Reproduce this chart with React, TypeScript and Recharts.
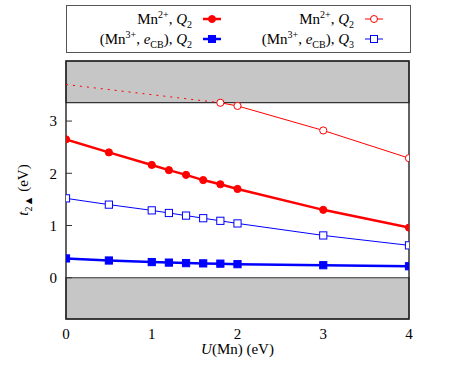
import React from 'react'
import { LineChart, Line, XAxis, YAxis, ReferenceArea } from 'recharts'

// U(Mn) values (eV)
const uFull = [0, 0.5, 1, 1.2, 1.4, 1.6, 1.8, 2, 3, 4]
const uOpen = [1.8, 2, 3, 4]
const uExtrap = [0, 1.8]

// t2 up-spin level (eV)
const mn2Q2 = [2.65, 2.4, 2.16, 2.06, 1.97, 1.87, 1.79, 1.7, 1.3, 0.96]
const mn3Q2 = [0.37, 0.33, 0.3, 0.29, 0.28, 0.275, 0.27, 0.26, 0.24, 0.22]
const mn3Q3 = [1.52, 1.4, 1.29, 1.24, 1.19, 1.14, 1.09, 1.04, 0.81, 0.62]
const mn2Open = [3.35, 3.29, 2.82, 2.29]
const mn2Extrap = [3.7, 3.35]

const xTicks = [0, 1, 2, 3, 4]
const yTicks = [0, 1, 2, 3]
const yMin = -0.79
const yMax = 4.15
const cbEdge = 3.354

const toRows = (xs: number[], ys: number[]) => xs.map((u, i) => ({ u, v: ys[i] }))

const RED = '#ff0000'
const BLUE = '#0000ff'
const FONT = "'Liberation Serif', 'Times New Roman', Tinos, 'DejaVu Serif', serif"

const circleDot = (filled: boolean) => (p: any) => (
  <circle
    key={p.key}
    cx={p.cx}
    cy={p.cy}
    r={3.6}
    fill={filled ? RED : '#fff'}
    stroke={RED}
    strokeWidth={1}
  />
)

const squareDot = (filled: boolean) => (p: any) => (
  <rect
    key={p.key}
    x={p.cx - 3.6}
    y={p.cy - 3.6}
    width={7.2}
    height={7.2}
    fill={filled ? BLUE : '#fff'}
    stroke={BLUE}
    strokeWidth={1}
  />
)

const LeftTick = (p: any) => (
  <g>
    <line x1={p.x + 9} x2={p.x + 15} y1={p.y} y2={p.y} stroke="#333" strokeWidth={1} />
    <text x={p.x} y={p.y} dy="0.35em" textAnchor="end" fontSize={15} fill="#000" style={{ fontFamily: FONT }}>
      {p.payload.value}
    </text>
  </g>
)

const BottomTick = (p: any) => (
  <text x={p.x} y={p.y} dy="0.71em" textAnchor="middle" fontSize={15} fill="#000" style={{ fontFamily: FONT }}>
    {p.payload.value}
  </text>
)

const RightTick = (p: any) => (
  <line x1={p.x - 6} x2={p.x} y1={p.y} y2={p.y} stroke="#333" strokeWidth={1} />
)

function Sample({ color, shape, filled }: { color: string; shape: 'circle' | 'square'; filled: boolean }) {
  return (
    <svg width={18} height={10} style={{ display: 'block' }}>
      <line x1={0} x2={18} y1={5} y2={5} stroke={color} strokeWidth={filled ? 2.5 : 1} />
      {shape === 'circle' ? (
        <circle cx={9} cy={5} r={3.5} fill={filled ? color : '#fff'} stroke={color} />
      ) : (
        <rect x={5.5} y={1.5} width={7} height={7} fill={filled ? color : '#fff'} stroke={color} />
      )}
    </svg>
  )
}

const sup = { fontSize: 10, verticalAlign: 'super', lineHeight: 0 } as const
const sub = { fontSize: 10, verticalAlign: 'sub', lineHeight: 0 } as const

function LegendBox() {
  const boxLeft = 66
  const boxWidth = 345
  const entry = (label: React.ReactNode, right: number, top: number, sample: React.ReactNode) => (
    <>
      <div
        style={{
          position: 'absolute',
          right: boxWidth - (right - boxLeft),
          top,
          whiteSpace: 'nowrap',
          lineHeight: '18px',
        }}
      >
        {label}
      </div>
      <div style={{ position: 'absolute', left: right - boxLeft + 9, top: top + 4 }}>{sample}</div>
    </>
  )
  const mn2 = (
    <span>
      Mn<span style={sup}>2+</span>, <i>Q</i>
      <span style={sub}>2</span>
    </span>
  )
  const mn3 = (q: string) => (
    <span>
      (Mn<span style={sup}>3+</span>, <i>e</i>
      <span style={sub}>CB</span>), <i>Q</i>
      <span style={sub}>{q}</span>
    </span>
  )
  return (
    <div
      style={{
        position: 'absolute',
        left: boxLeft,
        top: 5,
        width: boxWidth,
        height: 48,
        boxSizing: 'border-box',
        border: '1px solid #555',
        fontFamily: FONT,
        fontSize: 15,
        color: '#000',
      }}
    >
      {entry(mn2, 193, 4, <Sample color={RED} shape="circle" filled />)}
      {entry(mn2, 355, 4, <Sample color={RED} shape="circle" filled={false} />)}
      {entry(mn3('2'), 193, 24, <Sample color={BLUE} shape="square" filled />)}
      {entry(mn3('3'), 355, 24, <Sample color={BLUE} shape="square" filled={false} />)}
    </div>
  )
}

export default function App() {
  return (
    <div style={{ position: 'absolute', left: 0, top: 0, width: 452, height: 368, background: '#fff', fontFamily: FONT }}>
      <LineChart width={452} height={368} margin={{ top: 61, right: 43, bottom: 19, left: 0 }}>
        <XAxis
          type="number"
          dataKey="u"
          domain={[0, 4]}
          ticks={xTicks}
          axisLine={false}
          tickLine={false}
          tickSize={0}
          tickMargin={9}
          height={30}
          tick={<BottomTick />}
          allowDataOverflow
        />
        <YAxis
          type="number"
          domain={[yMin, yMax]}
          ticks={yTicks}
          axisLine={false}
          tickLine={false}
          tickSize={0}
          tickMargin={9}
          width={66}
          tick={<LeftTick />}
          allowDataOverflow
        />
        <YAxis
          yAxisId="r"
          orientation="right"
          type="number"
          domain={[yMin, yMax]}
          ticks={yTicks}
          axisLine={false}
          tickLine={false}
          tickSize={0}
          tickMargin={0}
          width={0}
          tick={<RightTick />}
          allowDataOverflow
        />
        <ReferenceArea x1={0} x2={4} y1={cbEdge} y2={yMax} fill="#c6c6c6" fillOpacity={1} stroke="#333" strokeWidth={1.2} />
        <ReferenceArea x1={0} x2={4} y1={yMin} y2={0} fill="#c6c6c6" fillOpacity={1} stroke="#333" strokeWidth={1.2} />
        <ReferenceArea x1={0} x2={4} y1={yMin} y2={yMax} fill="none" fillOpacity={0} stroke="#222" strokeWidth={1.4} />
        <Line
          data={toRows(uExtrap, mn2Extrap)}
          dataKey="v"
          stroke={RED}
          strokeWidth={1}
          strokeDasharray="2 5"
          dot={false}
          isAnimationActive={false}
        />
        <Line
          data={toRows(uFull, mn3Q3)}
          dataKey="v"
          stroke={BLUE}
          strokeWidth={1}
          dot={squareDot(false)}
          isAnimationActive={false}
        />
        <Line
          data={toRows(uFull, mn3Q2)}
          dataKey="v"
          stroke={BLUE}
          strokeWidth={2.5}
          dot={squareDot(true)}
          isAnimationActive={false}
        />
        <Line
          data={toRows(uOpen, mn2Open)}
          dataKey="v"
          stroke={RED}
          strokeWidth={1}
          dot={circleDot(false)}
          isAnimationActive={false}
        />
        <Line
          data={toRows(uFull, mn2Q2)}
          dataKey="v"
          stroke={RED}
          strokeWidth={2.5}
          dot={circleDot(true)}
          isAnimationActive={false}
        />
      </LineChart>
      <LegendBox />
      <div
        style={{
          position: 'absolute',
          left: 66,
          width: 343,
          top: 342,
          textAlign: 'center',
          fontSize: 15,
          lineHeight: '15px',
        }}
      >
        <i>U</i>(Mn) (eV)
      </div>
      <svg style={{ position: 'absolute', left: 0, top: 0, pointerEvents: 'none' }} width={60} height={368}>
        <text
          transform="translate(28,190) rotate(-90)"
          textAnchor="middle"
          fontSize={15}
          fill="#000"
          style={{ fontFamily: FONT }}
        >
          <tspan fontStyle="italic">t</tspan>
          <tspan fontSize={10} dy={4}>2</tspan>
          <tspan fontSize={11}>▲</tspan>
          <tspan dy={-4}> (eV)</tspan>
        </text>
      </svg>
    </div>
  )
}
